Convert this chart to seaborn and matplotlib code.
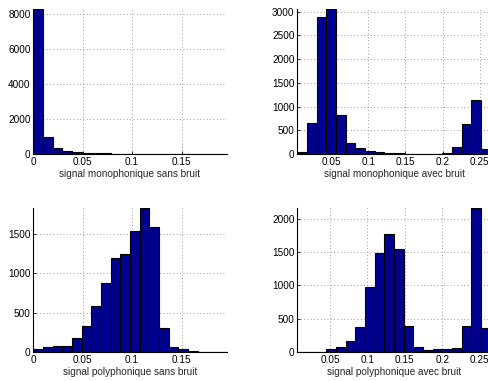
import numpy as np
import pandas as pd
import matplotlib
matplotlib.use("Agg")
import matplotlib.pyplot as plt
import seaborn as sns
from matplotlib.ticker import FixedLocator, FuncFormatter

# ---- data (counts of 20-bin histograms) ----
titles = ["signal monophonique sans bruit", "signal monophonique avec bruit",
          "signal polyphonique sans bruit", "signal polyphonique avec bruit"]

mono_clean = [8270, 971, 362, 190, 95, 76, 48, 29, 20, 16, 14, 12, 10, 9, 8, 7, 6, 5, 4, 3]
mono_noisy = [35, 647, 2895, 3050, 829, 239, 120, 56, 35, 21, 14, 7, 7, 3, 7, 28, 148, 640, 1131, 112]
poly_clean = [37, 62, 83, 83, 175, 337, 582, 877, 1188, 1243, 1538, 1829, 1580, 304, 67, 42, 17, 8, 6, 4]
poly_noisy = [1, 2, 2, 50, 80, 170, 383, 980, 1490, 1766, 1552, 388, 80, 40, 55, 55, 65, 398, 2164, 368]

ranges = [(0.0, 0.1957), (0.004, 0.265), (0.0, 0.1957), (0.006, 0.265)]

xticks = [[0, 0.05, 0.1, 0.15], [0.05, 0.1, 0.15, 0.2, 0.25],
          [0, 0.05, 0.1, 0.15], [0.05, 0.1, 0.15, 0.2, 0.25]]
yticks = [[0, 2000, 4000, 6000, 8000], [0, 500, 1000, 1500, 2000, 2500, 3000],
          [0, 500, 1000, 1500], [0, 500, 1000, 1500, 2000]]

series = [mono_clean, mono_noisy, poly_clean, poly_noisy]

# ---- style ----
sns.set_theme(style="white")
plt.rcParams["font.family"] = ["Liberation Sans", "DejaVu Sans"]
plt.rcParams["font.size"] = 7.2

W, H = 488, 381
fig = plt.figure(figsize=(W / 100, H / 100), dpi=100)
fig.patch.set_facecolor("white")

# axes boxes in pixels: left, top, right, bottom
boxes = [(33.3, 9.3, 226.7, 154.0), (297.3, 9.3, 490.7, 154.0),
         (33.3, 207.7, 226.7, 352.3), (297.3, 207.7, 490.7, 352.3)]

fmt = FuncFormatter(lambda v, p: "%g" % v)

for i in range(4):
    l, t, r, b = boxes[i]
    ax = fig.add_axes([l / W, 1 - b / H, (r - l) / W, (b - t) / H])
    lo, hi = ranges[i]
    n = len(series[i])
    edges = np.linspace(lo, hi, n + 1)
    df = pd.DataFrame({"value": (edges[:-1] + edges[1:]) / 2,
                       "count": np.asarray(series[i], dtype=float)})
    sns.histplot(data=df, x="value", weights="count", bins=n, binrange=(lo, hi),
                 ax=ax, color="#00008F", edgecolor="black", linewidth=0.8, alpha=1.0)
    ax.set_xlim(lo, hi)
    ax.set_ylim(0, max(series[i]))
    ax.xaxis.set_major_locator(FixedLocator(xticks[i]))
    ax.yaxis.set_major_locator(FixedLocator(yticks[i]))
    ax.xaxis.set_major_formatter(fmt)
    ax.yaxis.set_major_formatter(fmt)
    ax.set_ylabel("")
    ax.set_xlabel(titles[i], fontsize=7.2, labelpad=1.5)
    ax.grid(True, color="0.5", linestyle=(0, (1, 3)), linewidth=0.6)
    ax.set_axisbelow(True)
    for s in ["top", "right"]:
        ax.spines[s].set_visible(False)
    for s in ["left", "bottom"]:
        ax.spines[s].set_color("black")
        ax.spines[s].set_linewidth(0.8)
    ax.tick_params(direction="in", length=2, width=0.6, pad=2,
                   labelsize=7.2, colors="black", left=True, bottom=True)
    ax.set_facecolor("white")

fig.savefig("out.png", dpi=100)
